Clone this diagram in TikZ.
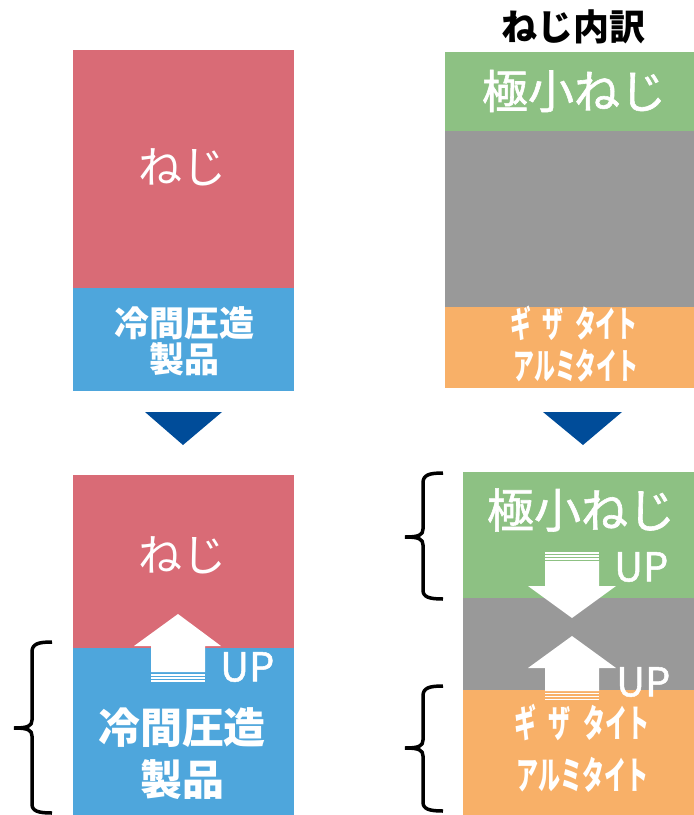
\documentclass[tikz,border=0pt]{standalone}
\usepackage{fontspec}
\usepackage{graphicx}
\setmainfont{Noto Sans CJK JP}
\newfontfamily\medfont{Noto Sans CJK JP}[FakeBold=1.3]
\definecolor{pinkc}{HTML}{D96B76}
\definecolor{bluec}{HTML}{4EA6DC}
\definecolor{greenc}{HTML}{8DC183}
\definecolor{grayc}{HTML}{999999}
\definecolor{orangec}{HTML}{F8B068}
\definecolor{navyc}{HTML}{004C99}
\tikzset{
  wtext/.style={text=white, inner sep=0pt, align=center},
  brace/.style={draw=black, line width=3.5pt, line cap=butt, line join=round},
  uparr/.style={fill=white, draw=none},
  hline/.style={draw=white, line width=1.4pt},
  uptext/.style={wtext, font=\fontsize{40}{42}\selectfont\medfont, anchor=west},
}
\newcommand{\kata}[1]{\scalebox{0.58}[1]{#1}}
\begin{document}
\begin{tikzpicture}[x=1pt,y=-1pt]
\useasboundingbox (0,0) rectangle (694,815);
% ---------- top left
\fill[pinkc] (73,50) rectangle (294,288);
\fill[bluec] (73,288) rectangle (294,391);
\node[wtext, font=\fontsize{44}{48}\selectfont] (tlneji) at (182,167) {ねじ};
\node[wtext, font=\fontsize{35}{38}\selectfont\bfseries] (tlcold) at (184,341) {冷間圧造\\[-2pt]製品};
% ---------- top right
\node[inner sep=0pt, font=\fontsize{36}{40}\selectfont\bfseries] (title) at (573,27) {ねじ内訳};
\fill[greenc] (445,52) rectangle (694,131);
\fill[grayc] (445,131) rectangle (694,307);
\fill[orangec] (445,307) rectangle (694,388);
\node[wtext, font=\fontsize{46}{48}\selectfont\medfont] (trmini) at (574,91) {極小ねじ};
\node[wtext, font=\fontsize{36}{40}\selectfont\bfseries] (trgiza) at (574,323) {\kata{ギ\hspace{0.55em}ザ\hspace{0.55em}タイト}};
\node[wtext, font=\fontsize{36}{40}\selectfont\bfseries] (tralumi) at (576,366) {\kata{アルミタイト}};
% ---------- triangles
\fill[navyc] (145,412) -- (222,412) -- (183,445) -- cycle;
\fill[navyc] (543,412) -- (622,412) -- (583,445) -- cycle;
% ---------- bottom left
\fill[pinkc] (73,475) rectangle (294,648);
\fill[bluec] (73,648) rectangle (294,815);
\node[wtext, font=\fontsize{44}{48}\selectfont] (blneji) at (182,555) {ねじ};
\node[wtext, font=\fontsize{42}{44}\selectfont\bfseries] (blcold) at (182,728) {冷間圧造};
\node[wtext, font=\fontsize{42}{44}\selectfont\bfseries] (blprod) at (182,780) {製品};
\path[uparr] (178,614) -- (221,646) -- (205,646) -- (205,672) -- (151,672) -- (151,646) -- (134,646) -- cycle;
\draw[hline] (151,675) -- (205,675);
\draw[hline] (151,678) -- (205,678);
\draw[hline] (151,681) -- (205,681);
\node[uptext] (blup) at (220,667) {UP};
\path[brace] (52,642) .. controls (38,642) and (32,644) .. (32,652)
  -- (32,720) .. controls (32,726) and (28,728) .. (14,728)
  (14,728) .. controls (28,728) and (32,730) .. (32,736)
  -- (32,804) .. controls (32,811) and (38,813) .. (52,813);
% ---------- bottom right
\fill[greenc] (463,472) rectangle (694,598);
\fill[grayc] (463,598) rectangle (694,690);
\fill[orangec] (463,690) rectangle (694,815);
\node[wtext, font=\fontsize{47}{48}\selectfont\medfont] (brmini) at (581,510) {極小ねじ};
\node[wtext, font=\fontsize{38}{42}\selectfont\bfseries] (brgiza) at (582,722) {\kata{ギ\hspace{0.55em}ザ\hspace{0.55em}タイト}};
\node[wtext, font=\fontsize{38}{42}\selectfont\bfseries] (bralumi) at (583,775) {\kata{アルミタイト}};
% down arrow
\draw[hline] (545,553) -- (599,553);
\draw[hline] (545,556) -- (599,556);
\draw[hline] (545,559) -- (599,559);
\path[uparr] (545,561) -- (599,561) -- (599,586) -- (616,586) -- (572,618) -- (528,586) -- (545,586) -- cycle;
\node[uptext] (brup1) at (614,567) {UP};
% up arrow
\path[uparr] (572,636) -- (616,668) -- (599,668) -- (599,691) -- (545,691) -- (545,668) -- (528,668) -- cycle;
\draw[hline] (545,693.5) -- (599,693.5);
\draw[hline] (545,696.5) -- (599,696.5);
\draw[hline] (545,699.5) -- (599,699.5);
\node[uptext] (brup2) at (616,682) {UP};
% braces right
\path[brace] (443,473) .. controls (429,473) and (423,475) .. (423,483)
  -- (423,529) .. controls (423,535) and (419,537) .. (405,537)
  (405,537) .. controls (419,537) and (423,539) .. (423,545)
  -- (423,590) .. controls (423,597) and (429,599) .. (443,599);
\path[brace] (443,686) .. controls (429,686) and (423,688) .. (423,696)
  -- (423,740) .. controls (423,746) and (419,748) .. (405,748)
  (405,748) .. controls (419,748) and (423,750) .. (423,756)
  -- (423,802) .. controls (423,809) and (429,811) .. (443,811);
\end{tikzpicture}
\end{document}
